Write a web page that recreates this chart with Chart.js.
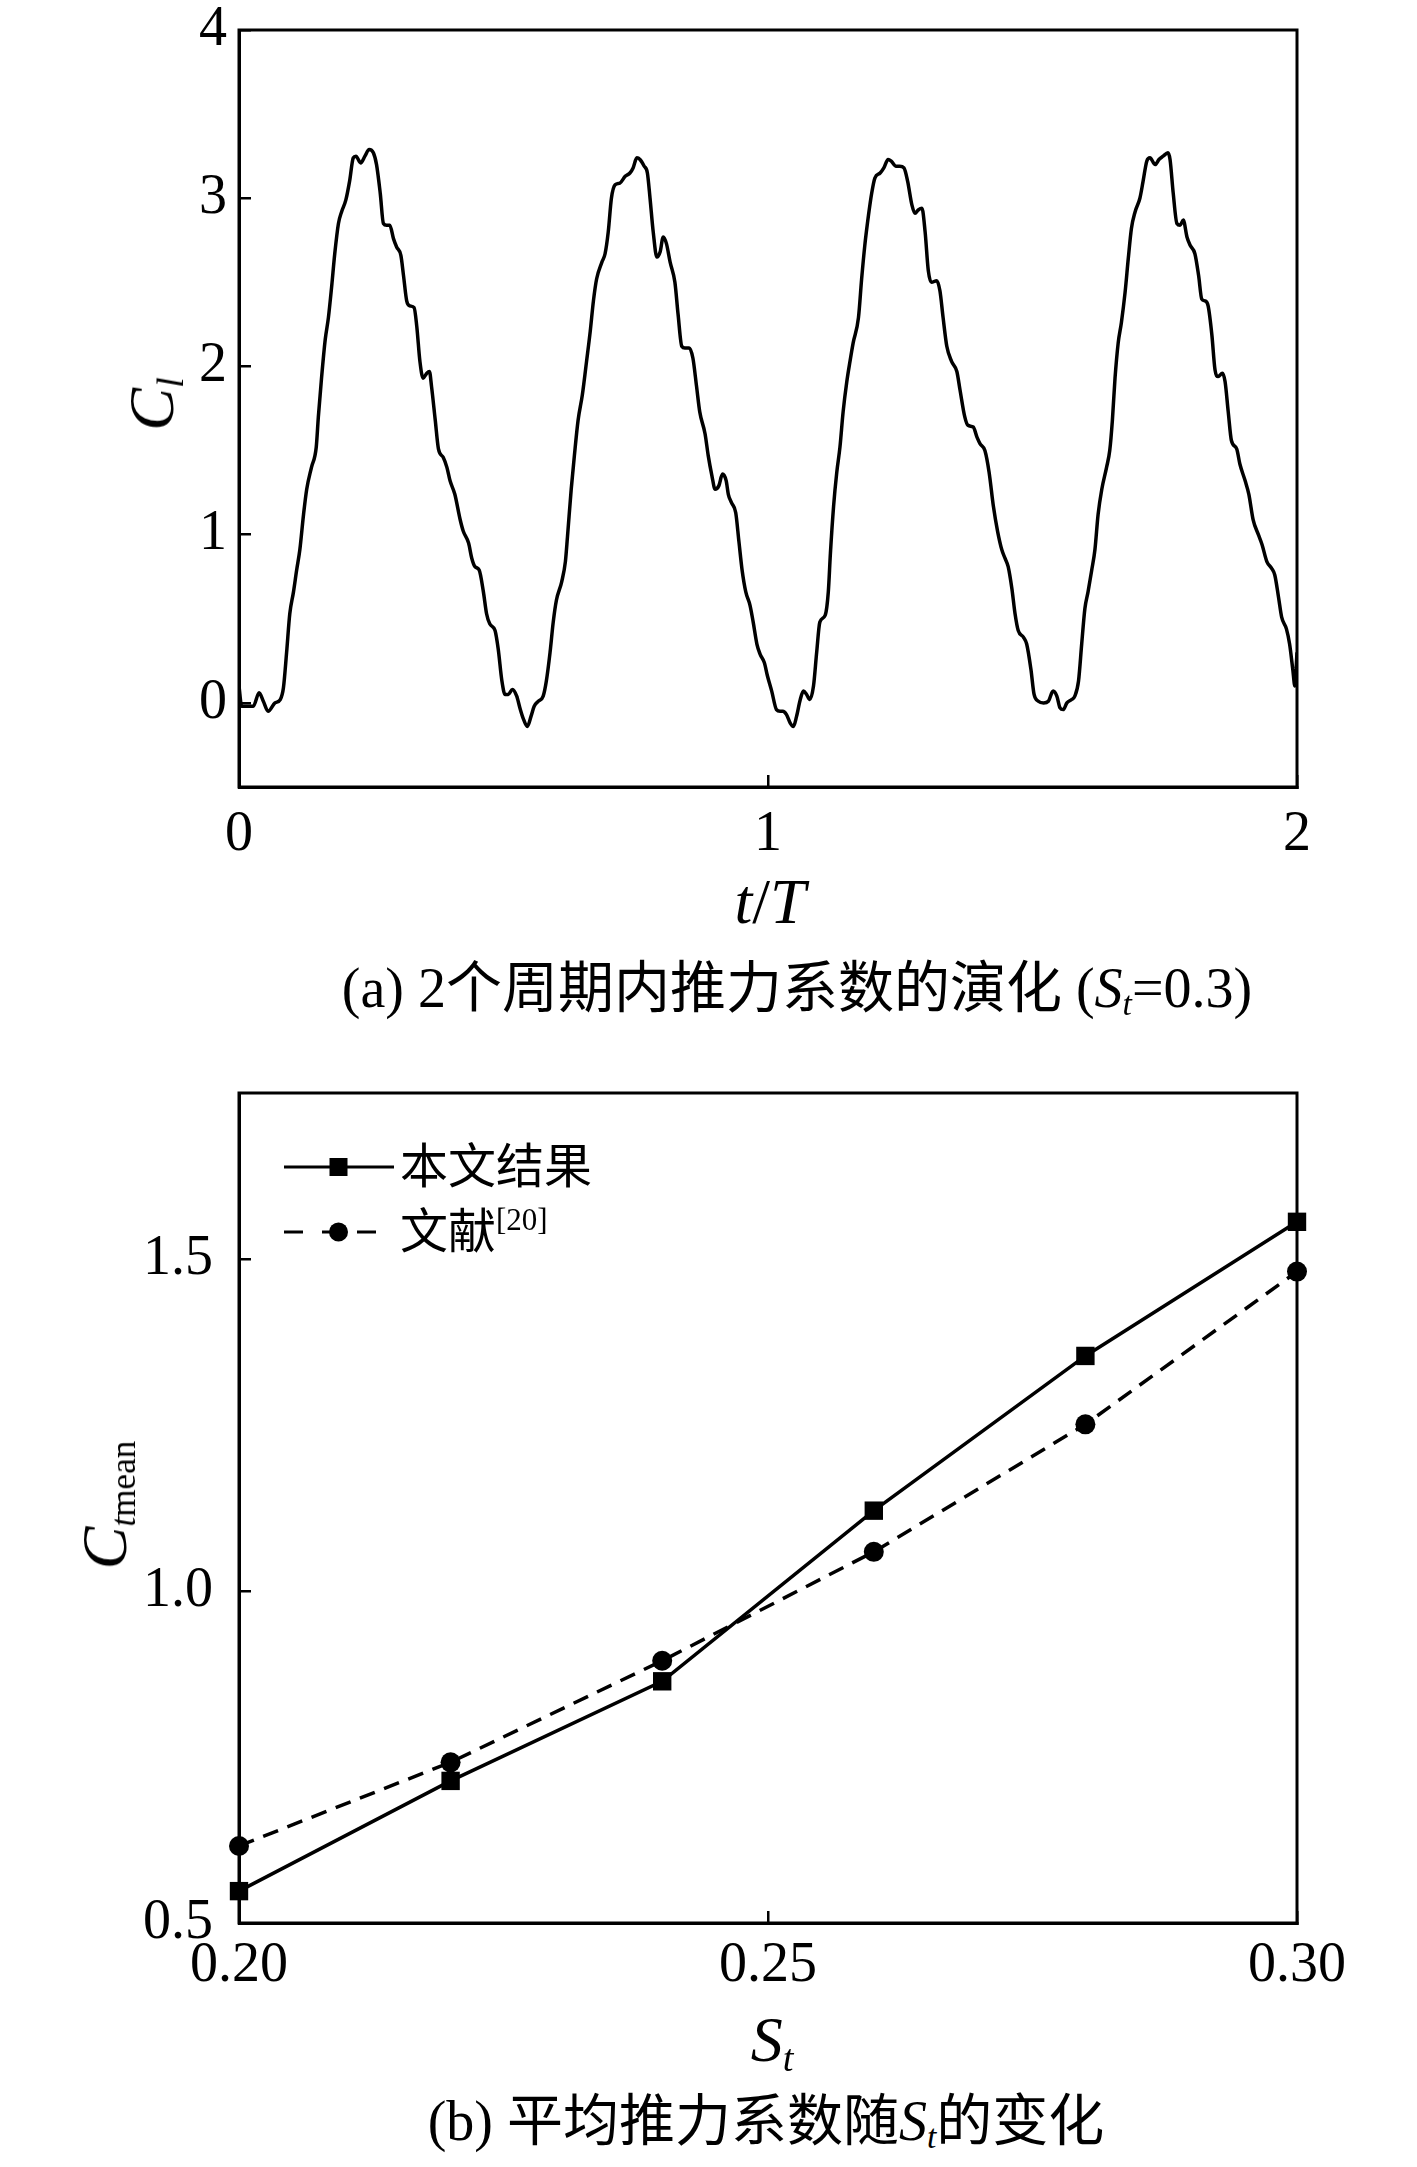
<!DOCTYPE html>
<html>
<head>
<meta charset="utf-8">
<script src="https://cdn.jsdelivr.net/npm/chart.js@4"></script>
<style>
  html, body { margin: 0; padding: 0; background: #fff; }
  body { width: 1417px; height: 2167px; position: relative; overflow: hidden;
         font-family: "Liberation Serif", "Noto Sans CJK SC", serif; color: #000; }
  .panel { position: absolute; left: 0; width: 1417px; }
  .lbl { position: absolute; transform: translate(-50%, -50%); white-space: nowrap; line-height: 1; }
  .rot { transform: translate(-50%, -50%) rotate(-90deg); }
  sub { font-size: 0.6em; vertical-align: -0.25em; line-height: 0; }
  .leg { position: absolute; left: 284px; height: 48px; display: flex; align-items: center;
         font-size: 48px; line-height: 48px; white-space: nowrap; }
  .leg svg { margin-right: 6px; }
  .sup { font-size: 31px; position: relative; top: -12px; }
</style>
</head>
<body>
<div class="panel" style="top:0; height:1000px"><canvas id="chartA"></canvas></div>
<div class="panel" style="top:1000px; height:1060px"><canvas id="chartB"></canvas></div>

<div class="lbl rot" style="left:152px; top:404px; font-size:64px"><i>C</i><sub><i>l</i></sub></div>
<div class="lbl" style="left:770px; top:902px; font-size:64px"><i>t</i>/<i>T</i></div>
<div class="lbl" style="left:797px; top:988px; font-size:56px">(a) 2个周期内推力系数的演化 (<i>S</i><sub><i>t</i></sub>=0.3)</div>

<div class="leg" style="top:1143px">
  <svg width="110" height="30"><line x1="0" y1="15" x2="110" y2="15" stroke="#000" stroke-width="3"/><rect x="45.5" y="6" width="18" height="18" fill="#000"/></svg><span>本文结果</span>
</div>
<div class="leg" style="top:1208px">
  <svg width="110" height="30"><g stroke="#000" stroke-width="3"><line x1="0" y1="15" x2="19" y2="15"/><line x1="38" y1="15" x2="50" y2="15"/><line x1="73" y1="15" x2="92" y2="15"/></g><circle cx="54.5" cy="15" r="9.5" fill="#000"/></svg><span>文献</span><span class="sup">[20]</span>
</div>

<div class="lbl rot" style="left:105px; top:1505px; font-size:64px"><i>C</i><sub style="font-size:0.55em"><i>t</i>mean</sub></div>
<div class="lbl" style="left:772px; top:2040px; font-size:64px"><i>S</i><sub><i>t</i></sub></div>
<div class="lbl" style="left:766px; top:2121px; font-size:56px">(b) 平均推力系数随<i>S</i><sub><i>t</i></sub>的变化</div>

<script>
// (a) thrust coefficient over two periods, St = 0.3
const tValues = [
  0, 0.005, 0.011, 0.020, 0.027, 0.038, 0.046, 0.055, 0.068, 0.078, 0.084, 0.090, 0.096, 0.103, 0.109, 0.115,
  0.122, 0.128, 0.137, 0.146, 0.150, 0.156, 0.163, 0.169, 0.175, 0.181, 0.188, 0.194, 0.202, 0.209, 0.216, 0.221,
  0.230, 0.238, 0.246, 0.254, 0.260, 0.267, 0.273, 0.279, 0.285, 0.292, 0.298, 0.306, 0.311, 0.317, 0.323, 0.331,
  0.336, 0.342, 0.348, 0.355, 0.360, 0.364, 0.371, 0.377, 0.386, 0.393, 0.399, 0.408, 0.418, 0.424, 0.434, 0.440,
  0.446, 0.454, 0.462, 0.468, 0.474, 0.484, 0.490, 0.497, 0.503, 0.509, 0.517, 0.525, 0.531, 0.537, 0.545, 0.552,
  0.558, 0.566, 0.575, 0.581, 0.588, 0.594, 0.600, 0.610, 0.617, 0.621, 0.628, 0.634, 0.641, 0.649, 0.657, 0.664,
  0.670, 0.676, 0.686, 0.692, 0.698, 0.704, 0.711, 0.720, 0.730, 0.739, 0.745, 0.752, 0.758, 0.766, 0.772, 0.777,
  0.783, 0.790, 0.796, 0.802, 0.808, 0.815, 0.824, 0.830, 0.837, 0.843, 0.851, 0.858, 0.865, 0.871, 0.881, 0.887,
  0.894, 0.900, 0.907, 0.914, 0.921, 0.925, 0.931, 0.939, 0.945, 0.951, 0.958, 0.966, 0.972, 0.979, 0.985, 0.993,
  0.999, 1.007, 1.016, 1.023, 1.028, 1.035, 1.042, 1.048, 1.054, 1.061, 1.067, 1.073, 1.079, 1.086, 1.092, 1.098,
  1.108, 1.114, 1.118, 1.124, 1.130, 1.136, 1.142, 1.149, 1.155, 1.161, 1.171, 1.177, 1.183, 1.190, 1.196, 1.202,
  1.212, 1.219, 1.227, 1.233, 1.242, 1.249, 1.257, 1.264, 1.272, 1.278, 1.284, 1.291, 1.297, 1.303, 1.309, 1.319,
  1.325, 1.331, 1.338, 1.347, 1.357, 1.363, 1.372, 1.378, 1.388, 1.395, 1.401, 1.410, 1.418, 1.426, 1.434, 1.442,
  1.448, 1.454, 1.461, 1.467, 1.473, 1.483, 1.489, 1.497, 1.503, 1.511, 1.521, 1.530, 1.539, 1.546, 1.552, 1.558,
  1.565, 1.574, 1.580, 1.587, 1.593, 1.599, 1.605, 1.612, 1.618, 1.624, 1.631, 1.640, 1.646, 1.651, 1.656, 1.662,
  1.668, 1.675, 1.681, 1.687, 1.694, 1.703, 1.709, 1.716, 1.722, 1.732, 1.739, 1.747, 1.756, 1.760, 1.766, 1.773,
  1.779, 1.785, 1.792, 1.798, 1.807, 1.814, 1.820, 1.826, 1.832, 1.839, 1.845, 1.851, 1.859, 1.864, 1.870, 1.876,
  1.886, 1.892, 1.902, 1.909, 1.917, 1.927, 1.934, 1.943, 1.952, 1.958, 1.965, 1.971, 1.980, 1.986, 1.992, 1.996,
  2.000
];
const clValues = [
  0.10, -0.02, -0.02, -0.02, -0.02, 0.06, 0.01, -0.05, 0.00, 0.02, 0.09, 0.30, 0.53, 0.66, 0.79, 0.91,
  1.12, 1.27, 1.40, 1.52, 1.70, 1.93, 2.16, 2.29, 2.47, 2.67, 2.85, 2.92, 2.99, 3.10, 3.24, 3.25,
  3.21, 3.25, 3.29, 3.27, 3.20, 3.03, 2.85, 2.84, 2.84, 2.76, 2.71, 2.66, 2.54, 2.39, 2.36, 2.35,
  2.24, 2.03, 1.93, 1.96, 1.97, 1.88, 1.68, 1.51, 1.46, 1.40, 1.32, 1.24, 1.09, 1.02, 0.95, 0.86,
  0.81, 0.79, 0.66, 0.53, 0.47, 0.43, 0.32, 0.13, 0.05, 0.05, 0.08, 0.04, -0.03, -0.09, -0.14, -0.08,
  -0.02, 0.01, 0.04, 0.13, 0.30, 0.48, 0.61, 0.72, 0.84, 0.99, 1.27, 1.47, 1.68, 1.83, 2.03, 2.21,
  2.39, 2.52, 2.62, 2.67, 2.80, 3.00, 3.08, 3.09, 3.13, 3.15, 3.18, 3.24, 3.23, 3.19, 3.15, 3.00,
  2.80, 2.65, 2.68, 2.77, 2.73, 2.62, 2.50, 2.31, 2.12, 2.11, 2.11, 2.05, 1.88, 1.73, 1.60, 1.47,
  1.35, 1.27, 1.29, 1.36, 1.32, 1.24, 1.19, 1.13, 0.96, 0.79, 0.66, 0.58, 0.48, 0.35, 0.29, 0.24,
  0.16, 0.07, -0.04, -0.05, -0.05, -0.07, -0.12, -0.14, -0.08, 0.02, 0.07, 0.05, 0.02, 0.10, 0.30, 0.48,
  0.52, 0.66, 0.89, 1.17, 1.37, 1.52, 1.73, 1.91, 2.03, 2.14, 2.29, 2.52, 2.72, 2.90, 3.03, 3.12,
  3.15, 3.18, 3.23, 3.22, 3.19, 3.19, 3.18, 3.10, 2.96, 2.91, 2.93, 2.94, 2.80, 2.57, 2.50, 2.51,
  2.45, 2.29, 2.12, 2.03, 1.97, 1.86, 1.70, 1.65, 1.64, 1.58, 1.54, 1.50, 1.37, 1.17, 1.02, 0.91,
  0.86, 0.81, 0.68, 0.53, 0.43, 0.39, 0.35, 0.20, 0.05, 0.01, 0.00, 0.01, 0.07, 0.04, -0.03, -0.04,
  0.00, 0.02, 0.04, 0.13, 0.35, 0.56, 0.66, 0.79, 0.91, 1.12, 1.27, 1.40, 1.50, 1.68, 1.93, 2.14,
  2.26, 2.44, 2.64, 2.82, 2.92, 3.00, 3.10, 3.22, 3.24, 3.20, 3.23, 3.25, 3.27, 3.23, 3.03, 2.85,
  2.84, 2.87, 2.77, 2.72, 2.67, 2.54, 2.40, 2.39, 2.36, 2.19, 1.98, 1.94, 1.96, 1.91, 1.73, 1.56,
  1.51, 1.42, 1.32, 1.24, 1.09, 1.00, 0.94, 0.84, 0.80, 0.76, 0.63, 0.51, 0.44, 0.35, 0.20, 0.10,
  0.30
];

// (b) mean thrust coefficient against St
const stValues = [0.20, 0.22, 0.24, 0.26, 0.28, 0.30];
const presentValues = [0.548, 0.714, 0.864, 1.121, 1.354, 1.556];
const ref20Values = [0.616, 0.742, 0.895, 1.059, 1.251, 1.481];

// tick positions
const aXTicks = [0, 1, 2], aXMinor = [0.5, 1.5];
const aYTicks = [0, 1, 2, 3, 4], aYMinor = [0.5, 1.5, 2.5, 3.5];
const bXTicks = [0.20, 0.25, 0.30], bXMinor = [0.225, 0.275];
const bYTicks = [0.5, 1.0, 1.5], bYMinor = [0.75, 1.25];

Chart.defaults.font.family = "'Liberation Serif', serif";
Chart.defaults.color = "#000";

const frame = {
    id: "frame",
    afterDraw(chart) {
        const {ctx, chartArea: a} = chart;
        ctx.save();
        ctx.strokeStyle = "#000";
        ctx.lineWidth = 3;
        ctx.strokeRect(a.left, a.top, a.right - a.left, a.bottom - a.top);
        ctx.restore();
    }
};

// inward ticks; minor axes sit on top of the major ones with zero size
function axis(pos, min, max, ticks, size, pad, fmt, minor) {
    return {
        type: "linear",
        position: pos,
        min: min,
        max: max,
        weight: minor ? 0 : 1,
        afterBuildTicks: function (s) { s.ticks = ticks.map(v => ({ value: v })); },
        afterFit: function (s) {
            if (pos === "left") s.width = size; else s.height = size;
            s.paddingTop = s.paddingBottom = s.paddingLeft = s.paddingRight = 0;
        },
        grid: { drawOnChartArea: false, color: "#000", lineWidth: 2.5, tickLength: minor ? -6 : -12 },
        border: { display: !minor, color: "#000", width: 3 },
        ticks: { display: !minor, padding: pad, font: { size: 56, lineHeight: 1 }, callback: fmt }
    };
}

new Chart(document.getElementById("chartA"), {
    type: "line",
    data: {
        datasets: [{
            data: tValues.map((t, i) => ({ x: t, y: clValues[i] })),
            borderColor: "#000",
            borderWidth: 3.5,
            pointRadius: 0,
            cubicInterpolationMode: "monotone",
            xAxisID: "x",
            yAxisID: "y"
        }]
    },
    options: {
        responsive: true,
        maintainAspectRatio: false,
        animation: false,
        layout: { padding: { top: 30, right: 120, left: 0, bottom: 0 } },
        plugins: { legend: { display: false }, tooltip: { enabled: false } },
        scales: {
            x: axis("bottom", 0, 2, aXTicks, 213, 32, v => String(v), false),
            y: axis("left", -0.5, 4, aYTicks, 239, 24, v => String(v), false),
            xMinor: axis("bottom", 0, 2, aXMinor, 0, 0, null, true),
            yMinor: axis("left", -0.5, 4, aYMinor, 0, 0, null, true)
        }
    },
    plugins: [frame]
});

new Chart(document.getElementById("chartB"), {
    type: "line",
    data: {
        datasets: [
            {
                label: "本文结果",
                data: stValues.map((s, i) => ({ x: s, y: presentValues[i] })),
                borderColor: "#000",
                backgroundColor: "#000",
                borderWidth: 3.5,
                pointStyle: "rect",
                pointRadius: 13,
                pointBorderWidth: 0,
                clip: false,
                xAxisID: "x",
                yAxisID: "y"
            },
            {
                label: "文献[20]",
                data: stValues.map((s, i) => ({ x: s, y: ref20Values[i] })),
                borderColor: "#000",
                backgroundColor: "#000",
                borderWidth: 3.5,
                borderDash: [16, 10],
                pointStyle: "circle",
                pointRadius: 10,
                pointBorderWidth: 0,
                clip: false,
                xAxisID: "x",
                yAxisID: "y"
            }
        ]
    },
    options: {
        responsive: true,
        maintainAspectRatio: false,
        animation: false,
        layout: { padding: { top: 93, right: 120, left: 0, bottom: 0 } },
        plugins: { legend: { display: false }, tooltip: { enabled: false } },
        scales: {
            x: axis("bottom", 0.2, 0.3, bXTicks, 137, 27, v => v.toFixed(2), false),
            y: axis("left", 0.5, 1.75, bYTicks, 239, 38, v => v.toFixed(1), false),
            xMinor: axis("bottom", 0.2, 0.3, bXMinor, 0, 0, null, true),
            yMinor: axis("left", 0.5, 1.75, bYMinor, 0, 0, null, true)
        }
    },
    plugins: [frame]
});
</script>
</body>
</html>
